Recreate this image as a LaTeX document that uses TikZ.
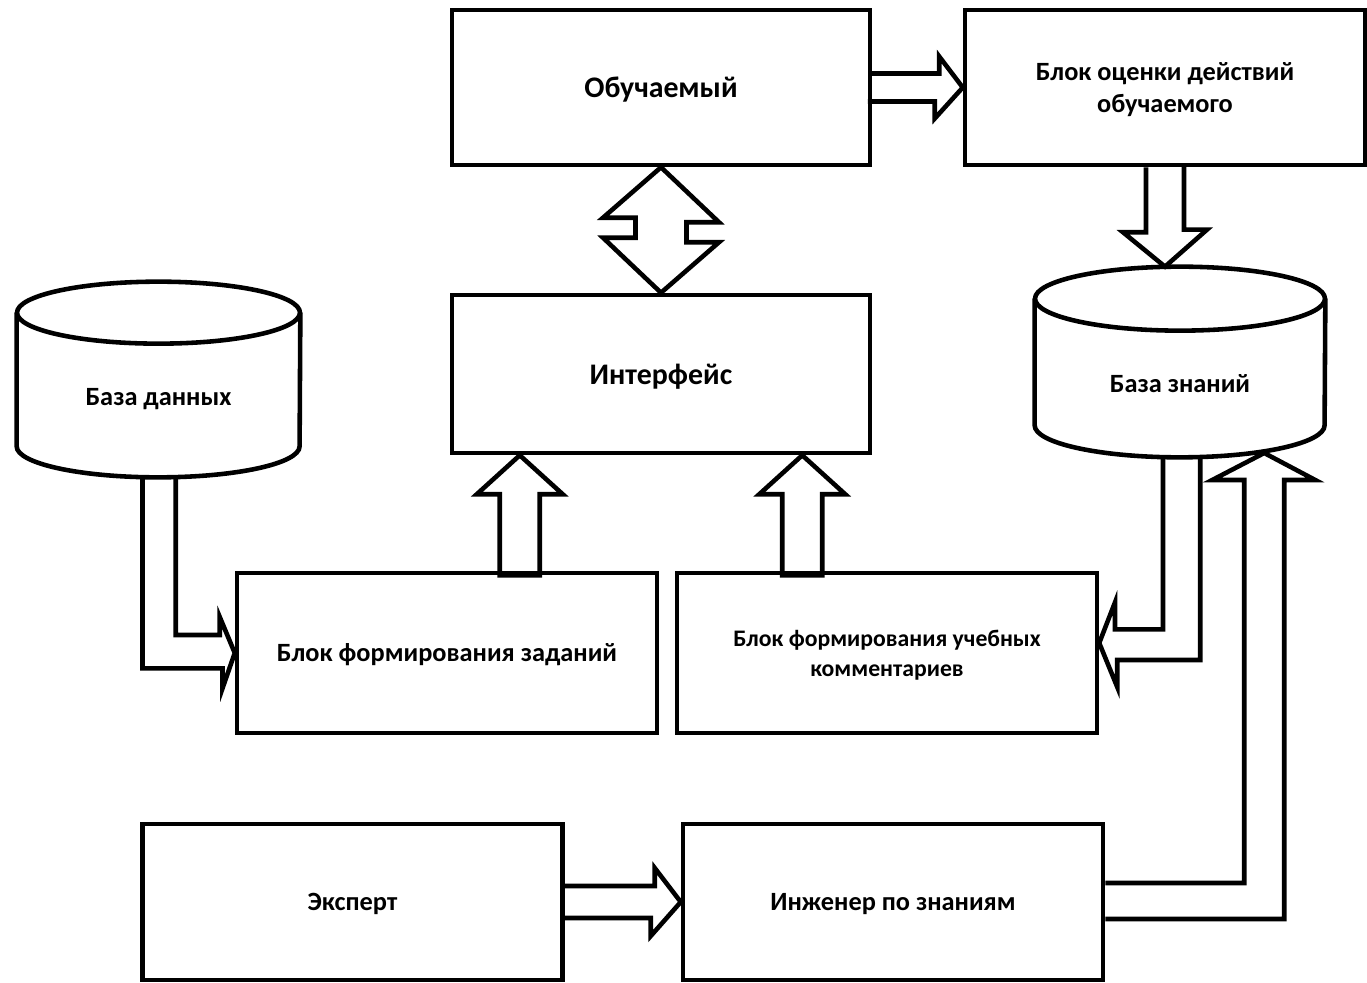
\documentclass[tikz,border=0pt]{standalone}
\usepackage{fontspec}
\setmainfont{Carlito}
\usetikzlibrary{calc, fit}
\tikzset{>=stealth,
  blok/.style={draw, line width=2.6pt, inner sep=0pt, align=center, text depth=0pt,
    minimum width=8.4cm, minimum height=3.1cm,
    font=\bfseries\fontsize{15}{18}\selectfont},
  blokmal/.style={blok, font=\bfseries\fontsize{13.5}{17}\selectfont},
  blokbol/.style={blok, font=\bfseries\fontsize{17}{20}\selectfont},
  baza/.style={inner sep=0pt},
  strelka/.style={draw, line width=2.6pt, line join=miter}}

\begin{document}
\begin{tikzpicture}[x=0.02cm, y=-0.02cm]
    \useasboundingbox (0,0) rectangle (1367,983);
    \node[blokbol, minimum width=8.36cm] (U) at (661,87.5) {Обучаемый};
    \node[blok, minimum width=8cm] (O) at (1165,87.5) {Блок оценки действий\\обучаемого};
    \node[blokbol, minimum width=8.36cm, minimum height=3.16cm] (I) at (661,374) {Интерфейс};
    \node[blok, minimum height=3.2cm] (Z) at (447,653) {Блок формирования заданий};
    \node[blokmal, minimum height=3.2cm] (K) at (887,653) {Блок формирования учебных\\комментариев};
    \node[blok, minimum height=3.12cm] (E) at (352.5,902) {Эксперт};
    \node[blok, minimum height=3.12cm] (IZ) at (893,902) {Инженер по знаниям};
    % cylinders
    \node[baza, fit={(17,282) (300,477)}] (BD) {};
    \draw[strelka] ($(BD.north)+(0,31)$) ellipse [x radius=2.83cm, y radius=0.62cm];
    \draw[strelka] ($(BD.north west)+(0,31)$) -- ($(BD.south west)+(0,-31)$)
        arc [start angle=180, end angle=360, x radius=2.83cm, y radius=0.62cm]
        -- ($(BD.north east)+(0,31)$);
    \node[font=\bfseries\fontsize{15}{18}\selectfont] (BDt) at ($(BD.center)+(0,20)$) {База данных};
    \node[baza, fit={(1035,267) (1325,457)}] (BZ) {};
    \draw[strelka] ($(BZ.north)+(0,32)$) ellipse [x radius=2.9cm, y radius=0.64cm];
    \draw[strelka] ($(BZ.north west)+(0,32)$) -- ($(BZ.south west)+(0,-32)$)
        arc [start angle=180, end angle=360, x radius=2.9cm, y radius=0.64cm]
        -- ($(BZ.north east)+(0,32)$);
    \node[font=\bfseries\fontsize{15}{18}\selectfont] (BZt) at ($(BZ.center)+(0,22)$) {База знаний};
    % block arrows
    \coordinate (tz) at ($(I.south west)+(70,0)$);
    \coordinate (tk) at ($(I.south east)+(-70,0)$);
    \draw[strelka] ($(U.east)+(0,-14)$) -- ++(67,0) -- ++(0,-17) -- (O.west)
        -- ++(-28,31) -- ++(0,-17) -- ++(-67,0);
    \draw[strelka] ($(O.south)+(-19,0)$) -- ++(0,65) -- ++(-23,0) -- (O.south |- BZ.north)
        -- ++(42,-37) -- ++(-23,0) -- ++(0,-65);
    \draw[strelka] (U.south) -- ++(58,55) -- ++(-32.5,0) -- ++(0,20) -- ++(32.5,0) -- (I.north)
        -- ++(-58,-55) -- ++(32.5,0) -- ++(0,-20) -- ++(-32.5,0) -- cycle;
    \draw[strelka] (tz) -- ++(43,39) -- ++(-23,0) -- ++(0,81) -- ++(-40,0) -- ++(0,-81)
        -- ++(-23,0) -- cycle;
    \draw[strelka] (tk) -- ++(43,39) -- ++(-23,0) -- ++(0,81) -- ++(-40,0) -- ++(0,-81)
        -- ++(-23,0) -- cycle;
    \draw[strelka] ($(BD.south)+(-16,0)$) -- ++(0,191) -- ++(80,0) -- ++(0,20) -- (Z.west)
        -- ++(-15,-36) -- ++(0,18) -- ++(-44,0) -- ++(0,-158);
    \draw[strelka] ($(BZ.south)+(-17,0)$) -- ++(0,172) -- ++(-48,0) -- ++(0,-27)
        -- ($(K.east)+(0,-10)$) -- ++(18,44) -- ++(0,-27) -- ++(83,0) -- ++(0,-203);
    \draw[strelka] ($(IZ.east)+(0,-19)$) -- ++(139,0) -- ++(0,-403) -- ++(-32,0) -- ++(52,-27)
        -- ++(51,27) -- ++(-31,0) -- ++(0,439) -- ++(-179,0);
    \draw[strelka] ($(E.east)+(0,-16)$) -- ++(90,0) -- ++(0,-18) -- (IZ.west)
        -- ++(-30,34) -- ++(0,-18) -- ++(-90,0);
   %\draw[red] (0,0) grid[step=100] (1367,983);
\end{tikzpicture}
\end{document}
